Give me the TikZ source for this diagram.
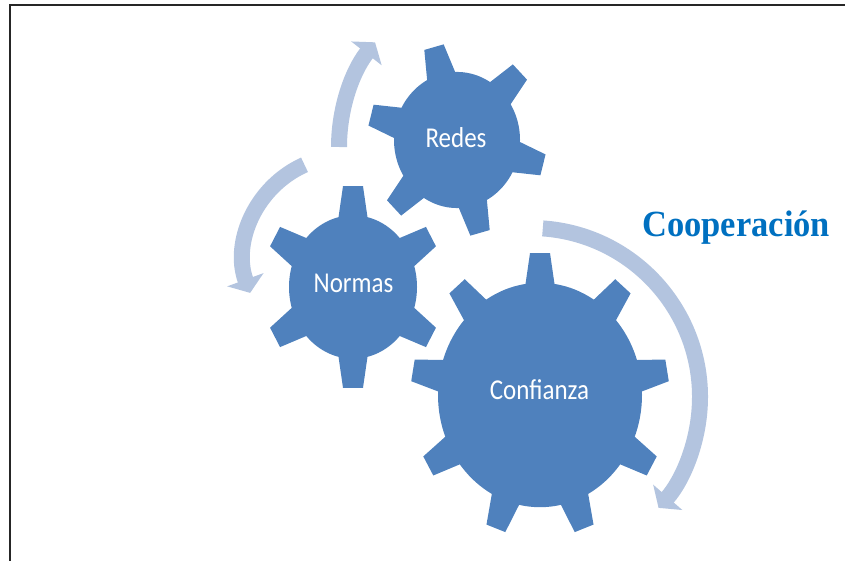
\documentclass[tikz,border=0pt]{standalone}
\usepackage{fontspec}
\usepackage{graphicx}
\setmainfont{Liberation Serif}
\newfontfamily\calibrifont{Carlito}
\usetikzlibrary{arrows.meta,calc}
\definecolor{gearblue}{HTML}{4F81BD}
\definecolor{arrowblue}{HTML}{B3C4DF}
\definecolor{coopblue}{HTML}{0070C0}
\newcommand\drawgear[6]{%
  \begin{scope}[shift={(#1,#2)}, yscale=#3]
    \fill[gearblue] (0,0) circle[radius=#4pt];
    \foreach \a in {#6}{
      \fill[gearblue, rotate=\a] ({#4-10},-14.5) -- ({sqrt(#4*#4-14.5*14.5)},-14.5) -- (#5,-10) -- (#5,10) -- ({sqrt(#4*#4-14.5*14.5)},14.5) -- ({#4-10},14.5) -- cycle;
    }
  \end{scope}}
\tikzset{
  cyclearrow/.style={draw=arrowblue, line width=16pt, -{Triangle[length=14pt,width=38pt,color=arrowblue]}},
  gearlabel/.style={text=white, font=\calibrifont\fontsize{25}{30}\selectfont, inner sep=0pt, anchor=base},
  frameline/.style={draw=black!85, line width=2pt}
}
\begin{document}
\begin{tikzpicture}[x=1pt,y=1pt]
\useasboundingbox (0,0) rectangle (845,560);
% frame
\coordinate (fbl) at (9.5,-2);
\coordinate (ftl) at (9.5,555);
\coordinate (ftr) at (847,555);
\draw[frameline] (fbl) -- (ftl) -- (ftr);
% arrow centres
\coordinate (c1) at (509,413);
\coordinate (c2) at (346,302);
\coordinate (c3) at (531,163);
\draw[cyclearrow] ($(c1)+(180:170)$) arc[start angle=180, end angle=142, radius=170pt];
\draw[cyclearrow] ($(c2)+(114:102)$) arc[start angle=114, end angle=200, radius=102pt];
\draw[cyclearrow] ($(c3)+(86:169)$) arc[start angle=86, end angle=-41, radius=169pt];
% gears
\drawgear{457}{420}{1.08}{63}{89}{105,45,-15,-75,-135,165}
\drawgear{353}{273}{1.12}{64}{90}{90,30,-30,-90,-150,150}
\drawgear{540}{165}{1.1}{102}{129}{90,50,10,-30,-70,-110,-150,170,130}
% labels
\node[gearlabel] (redes) at (456,412) {\scalebox{1}[1.15]{Redes}};
\node[gearlabel] (normas) at (353.5,267) {\scalebox{1}[1.15]{Normas}};
\node[gearlabel] (confianza) at (539.5,161) {\scalebox{1}[1.15]{Confianza}};
\node[text=coopblue, font=\bfseries\fontsize{34.5}{40}\selectfont, inner sep=0pt, anchor=base west] (coop) at (642,323) {\scalebox{1}[1.07]{Cooperación}};
\end{tikzpicture}
\end{document}
